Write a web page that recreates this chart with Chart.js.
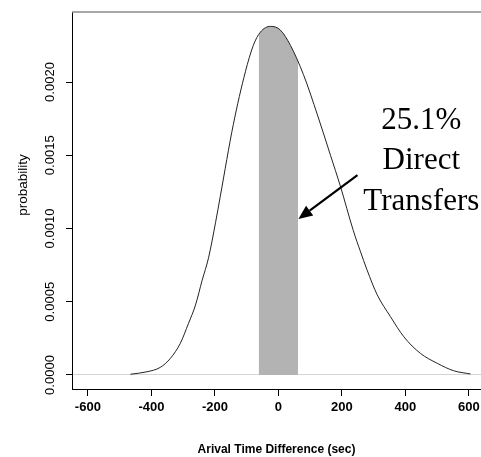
<!DOCTYPE html>
<html>
<head>
<meta charset="utf-8">
<script src="https://cdn.jsdelivr.net/npm/chart.js@4.4.0/dist/chart.umd.min.js"></script>
<style>
  body { margin: 0; background: #fff; }
  canvas { display: block; }
</style>
</head>
<body>
<canvas id="chart" width="481" height="457"></canvas>
<script>
// density of arrival time difference
const curveX = [-466, -414, -372, -340, -309, -283, -261, -240, -220, -198, -183, -142, -104, -79, -57, -25,
                6, 38, 79, 123, 164, 195, 236, 258, 279, 311, 353, 395, 447, 500, 552, 605];
const curveY = [0.000005, 0.000022, 0.000052, 0.000114, 0.000216, 0.000353, 0.000478, 0.000648, 0.0008,
                0.00104, 0.00122, 0.00171, 0.00207, 0.00225, 0.00234, 0.00238,
                0.002355, 0.00225, 0.00205, 0.001775, 0.0015, 0.00129, 0.000985, 0.000845, 0.000718,
                0.000548, 0.000398, 0.000261, 0.000148, 0.00008, 0.000029, 0.000007];

// shaded band: direct transfers
const bandX = [-62, -57, -25, 6, 38, 62];
const bandY = [0.00232, 0.00234, 0.00238, 0.002355, 0.00225, 0.00214];

const xTicks = [-600, -400, -200, 0, 200, 400, 600];
const yTicks = [0, 0.0005, 0.001, 0.0015, 0.002];
const yTickLabels = ['0.0000', '0.0005', '0.0010', '0.0015', '0.0020'];

const noteLines = ['25.1%', 'Direct', 'Transfers'];
// note position in data units
const noteX = 450;
const noteY = [0.001679, 0.001406, 0.001126];
const arrowFrom = [249, 0.001365];
const arrowTo = [63, 0.001065];

const toPoints = (xs, ys) => xs.map((x, i) => ({x: x, y: ys[i]}));

const extras = {
    id: 'extras',
    afterDraw(chart) {
        const { ctx, chartArea, scales: { x, y } } = chart;
        ctx.save();

        // grey top frame line
        ctx.strokeStyle = '#8a8a8a';
        ctx.lineWidth = 1.5;
        ctx.beginPath();
        ctx.moveTo(chartArea.left, chartArea.top);
        ctx.lineTo(chartArea.right, chartArea.top);
        ctx.stroke();

        // rotated y tick labels
        ctx.fillStyle = '#000';
        ctx.font = '13px "Liberation Sans", Arial, sans-serif';
        ctx.textAlign = 'center';
        ctx.textBaseline = 'middle';
        yTicks.forEach((v, i) => {
            ctx.save();
            ctx.translate(50, y.getPixelForValue(v));
            ctx.rotate(-Math.PI / 2);
            ctx.fillText(yTickLabels[i], 0, 0);
            ctx.restore();
        });

        // y title
        ctx.save();
        ctx.translate(23, 185);
        ctx.rotate(-Math.PI / 2);
        ctx.font = '13.5px "Liberation Sans", Arial, sans-serif';
        ctx.fillText('probability', 0, 0);
        ctx.restore();

        // note text
        ctx.font = '31px "Liberation Serif", "Times New Roman", serif';
        ctx.textBaseline = 'alphabetic';
        noteLines.forEach((t, i) => {
            ctx.fillText(t, x.getPixelForValue(noteX), y.getPixelForValue(noteY[i]));
        });

        // arrow
        const x0 = x.getPixelForValue(arrowFrom[0]), y0 = y.getPixelForValue(arrowFrom[1]);
        const x1 = x.getPixelForValue(arrowTo[0]), y1 = y.getPixelForValue(arrowTo[1]);
        const ang = Math.atan2(y1 - y0, x1 - x0);
        const head = 14, half = 6;
        const bx = x1 - head * Math.cos(ang), by = y1 - head * Math.sin(ang);
        ctx.strokeStyle = '#000';
        ctx.lineWidth = 2.2;
        ctx.beginPath();
        ctx.moveTo(x0, y0);
        ctx.lineTo(bx, by);
        ctx.stroke();
        ctx.beginPath();
        ctx.moveTo(x1, y1);
        ctx.lineTo(bx + half * Math.sin(ang), by - half * Math.cos(ang));
        ctx.lineTo(bx - half * Math.sin(ang), by + half * Math.cos(ang));
        ctx.closePath();
        ctx.fill();

        ctx.restore();
    }
};

new Chart(document.getElementById('chart'), {
    type: 'line',
    data: {
        datasets: [
            {
                data: toPoints(curveX, curveY),
                borderColor: '#222',
                borderWidth: 1,
                pointRadius: 0,
                cubicInterpolationMode: 'monotone',
                fill: false,
            },
            {
                data: toPoints(bandX, bandY),
                borderWidth: 0,
                borderColor: 'rgba(0,0,0,0)',
                backgroundColor: '#b3b3b3',
                pointRadius: 0,
                cubicInterpolationMode: 'monotone',
                fill: 'origin',
            },
        ]
    },
    options: {
        responsive: false,
        animation: false,
        layout: { padding: { top: 12, left: 0, right: 0, bottom: 0 } },
        plugins: { legend: { display: false }, tooltip: { enabled: false } },
        scales: {
            x: {
                type: 'linear',
                min: -650,
                max: 638,
                afterBuildTicks: s => { s.ticks = xTicks.map(v => ({value: v})); },
                afterFit: s => { s.height = 68; s.paddingLeft = 0; s.paddingRight = 0; },
                grid: { drawOnChartArea: false, tickColor: '#000', tickLength: 7 },
                border: { color: '#000', width: 1 },
                ticks: {
                    color: '#000',
                    padding: 4,
                    maxRotation: 0,
                    font: { family: '"Liberation Sans", Arial, sans-serif', size: 13, weight: 'bold' },
                },
                title: {
                    display: true,
                    text: 'Arival Time Difference (sec)',
                    color: '#000',
                    padding: { top: 0, bottom: 0 },
                    font: { family: '"Liberation Sans", Arial, sans-serif', size: 12, weight: 'bold' },
                },
            },
            y: {
                min: -0.0000956,
                max: 0.002478,
                afterBuildTicks: s => { s.ticks = yTicks.map(v => ({value: v})); },
                afterFit: s => { s.width = 72; },
                grid: {
                    color: c => (c.tick && c.tick.value === 0) ? '#d4d4d4' : 'rgba(0,0,0,0)',
                    tickColor: '#000',
                    tickLength: 6,
                },
                border: { color: '#000', width: 1 },
                ticks: { display: false },
            },
        },
    },
    plugins: [extras],
});
</script>
</body>
</html>
